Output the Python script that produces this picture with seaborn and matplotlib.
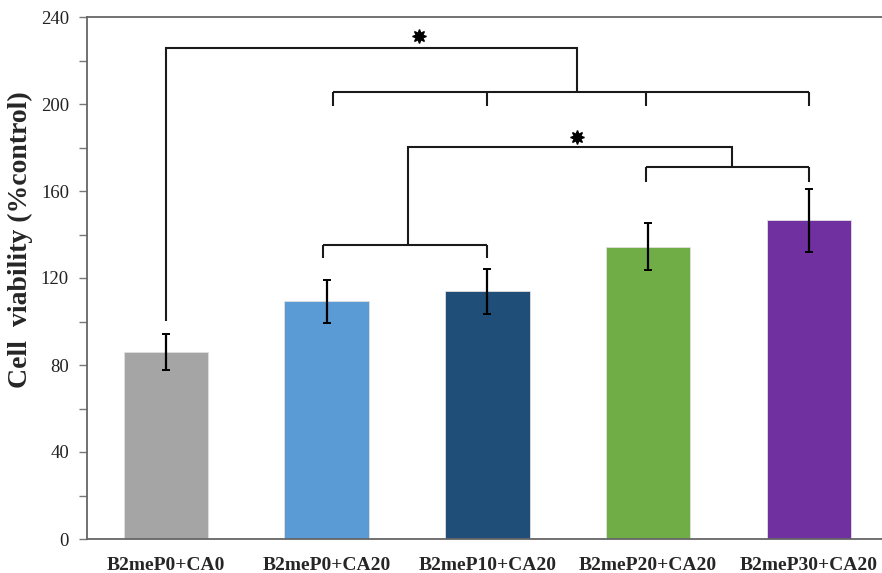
import numpy as np
import pandas as pd
import matplotlib
matplotlib.use("Agg")
import matplotlib.pyplot as plt
import seaborn as sns
from matplotlib.ticker import MultipleLocator

categories = ["B2meP0+CA0", "B2meP0+CA20", "B2meP10+CA20", "B2meP20+CA20", "B2meP30+CA20"]
means = [86.0, 109.2, 113.8, 134.3, 146.5]
errors = [8.3, 10.0, 10.4, 10.8, 14.4]
colors = ["#A5A5A5", "#5B9BD5", "#1F4E79", "#70AD47", "#7030A0"]
y_ticks = [0, 40, 80, 120, 160, 200, 240]

sns.set_theme(style="white")
plt.rcParams["font.family"] = ["Liberation Serif", "DejaVu Serif"]

fig = plt.figure(figsize=(8.82, 5.73), dpi=100)
ax = fig.add_axes([87 / 882, 34 / 573, 1 - 87 / 882 + 0.001, 522 / 573])

df = pd.DataFrame({"cat": categories, "val": means})
sns.barplot(data=df, x="cat", y="val", hue="cat", palette=colors, legend=False,
            saturation=1, width=0.525, ax=ax, edgecolor="#e0e0e0", linewidth=0.6)
ax.errorbar(np.arange(len(categories)), means, yerr=errors, fmt="none",
            ecolor="black", elinewidth=1.6, capsize=3, capthick=1.4, zorder=5)

ax.set_ylim(0, 240)
ax.set_xlim(-0.49, 4.46)
ax.set_yticks(y_ticks)
ax.yaxis.set_minor_locator(MultipleLocator(20))
ax.tick_params(axis="y", which="both", direction="out", length=6, width=1.0,
               color="#777777", left=True, pad=7, labelsize=13.5, labelcolor="#222222")
ax.tick_params(axis="x", length=0, pad=13)
for lbl in ax.get_xticklabels():
    lbl.set_fontweight("bold")
    lbl.set_fontsize(14)
ax.set_xlabel("")
ax.set_ylabel("Cell  viability (%control)", fontsize=20, fontweight="bold")
ax.yaxis.set_label_coords(-0.068, 0.573)

for s in ["left", "bottom", "top"]:
    ax.spines[s].set_visible(True)
    ax.spines[s].set_color("#666666")
    ax.spines[s].set_linewidth(1.3)
ax.spines["right"].set_visible(False)

lc = "#1a1a1a"
lw = 1.5
def seg(xs, ys):
    ax.plot(xs, ys, color=lc, lw=lw, solid_capstyle="butt", solid_joinstyle="miter", zorder=4)

# top bracket: group 0 vs (1..4)
seg([0, 0, 2.555, 2.555], [100.2, 225.6, 225.6, 205.5])
seg([1.04, 4.0], [205.5, 205.5])
for xp in [1.04, 2.0, 2.985, 4.0]:
    seg([xp, xp], [205.5, 199.0])
ax.plot(1.572, 231.3, marker=(8, 1, 0), ms=10, color="black", zorder=6)

# second bracket: (1,2) vs (3,4)
seg([0.98, 0.98], [129.2, 135.2])
seg([0.98, 2.0], [135.2, 135.2])
seg([2.0, 2.0], [135.2, 129.2])
seg([1.508, 1.508, 3.52, 3.52], [135.2, 180.4, 180.4, 170.9])
seg([2.985, 4.0], [170.9, 170.9])
seg([2.985, 2.985], [170.9, 164.3])
seg([4.0, 4.0], [170.9, 164.3])
ax.plot(2.56, 185.0, marker=(8, 1, 0), ms=10, color="black", zorder=6)

fig.savefig("out.png", dpi=100)
